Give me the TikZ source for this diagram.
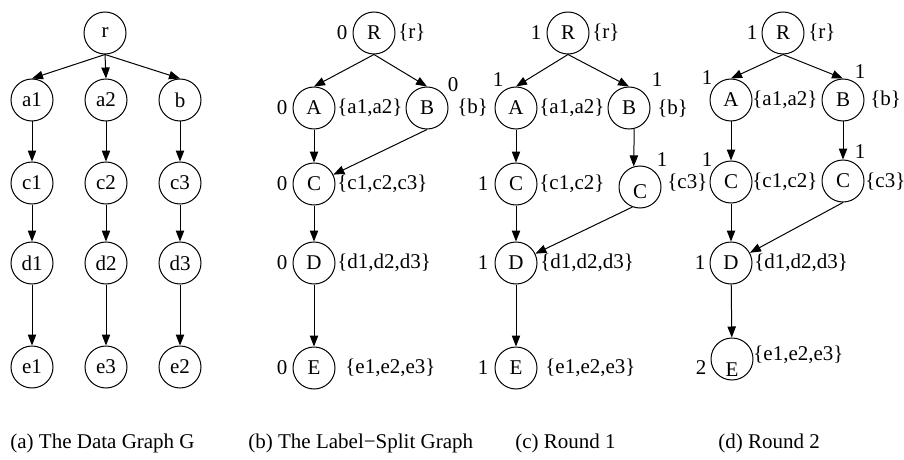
\documentclass[tikz,border=0pt]{standalone}
\usepackage{fontspec}
\setmainfont{Liberation Serif}
\usepackage{tikz}
\usetikzlibrary{arrows.meta}
\tikzset{every node/.style={font=\fontsize{10.5}{12}\selectfont},
 vtx/.style={draw,circle,line width=.5pt,minimum size=21pt,inner sep=0pt},
 link/.style={-{Triangle[length=5.5pt,width=4.2pt]},line width=.5pt},
 num/.style={inner sep=0pt},ext/.style={anchor=west,inner sep=0pt},
 caption/.style={anchor=west,inner sep=0pt}}

\begin{document}
\begin{tikzpicture}[x=5pt,y=-5pt]
\useasboundingbox (0,0) rectangle (90.4,46.0);
% (a) data graph
\node[vtx] (g-r) at (10.5,3.3) {r};
\node[vtx] (g-a1) at (3.2,10.0) {a1};
\node[vtx] (g-a2) at (10.6,10.0) {a2};
\node[vtx] (g-b) at (18.0,10.0) {b};
\node[vtx] (g-c1) at (3.2,18.3) {c1};
\node[vtx] (g-c2) at (10.6,18.3) {c2};
\node[vtx] (g-c3) at (18.0,18.3) {c3};
\node[vtx] (g-d1) at (3.2,26.3) {d1};
\node[vtx] (g-d2) at (10.6,26.3) {d2};
\node[vtx] (g-d3) at (18.0,26.3) {d3};
\node[vtx] (g-e1) at (3.2,36.7) {e1};
\node[vtx] (g-e3) at (10.6,36.7) {e3};
\node[vtx] (g-e2) at (18.0,36.7) {e2};
\draw[link] (g-r.south)--(g-a1.north);
\draw[link] (g-r.south)--(g-a2.north);
\draw[link] (g-r.south)--(g-b.north);
\draw[link] (g-a1)--(g-c1);
\draw[link] (g-a2)--(g-c2);
\draw[link] (g-b)--(g-c3);
\draw[link] (g-c1)--(g-d1);
\draw[link] (g-c2)--(g-d2);
\draw[link] (g-c3)--(g-d3);
\draw[link] (g-d1)--(g-e1);
\draw[link] (g-d2)--(g-e3);
\draw[link] (g-d3)--(g-e2);
\node[caption] (cap-a) at (1.0,44.3) {(a) The Data Graph G};
% (b) label-split graph
\node[vtx] (ls-R) at (37.4,3.3) {R};
\node[vtx] (ls-A) at (31.4,10.8) {A};
\node[vtx] (ls-B) at (42.7,10.8) {B};
\node[vtx] (ls-C) at (31.4,18.4) {C};
\node[vtx] (ls-D) at (31.4,26.3) {D};
\node[vtx] (ls-E) at (31.4,36.8) {E};
\node[num] (ls-R-n) at (34.2,3.3) {0};
\node[ext] (ls-R-s) at (39.8,3.3) {\{r\}};
\node[num] (ls-A-n) at (28.2,10.8) {0};
\node[ext] (ls-A-s) at (33.7,10.8) {\{a1,a2\}};
\node[num] (ls-B-n) at (45.3,8.5) {0};
\node[ext] (ls-B-s) at (45.7,10.8) {\{b\}};
\node[num] (ls-C-n) at (28.2,18.4) {0};
\node[ext] (ls-C-s) at (33.7,18.4) {\{c1,c2,c3\}};
\node[num] (ls-D-n) at (28.2,26.3) {0};
\node[ext] (ls-D-s) at (33.7,26.3) {\{d1,d2,d3\}};
\node[num] (ls-E-n) at (28.2,36.8) {0};
\node[ext] (ls-E-s) at (34.5,36.8) {\{e1,e2,e3\}};
\draw[link] (ls-R.south)--(ls-A.north);
\draw[link] (ls-R.south)--(ls-B.north);
\draw[link] (ls-A)--(ls-C);
\draw[link] (ls-B.south)--(ls-C);
\draw[link] (ls-C)--(ls-D);
\draw[link] (ls-D)--(ls-E);
\node[caption] (cap-b) at (24.8,44.3) {(b) The Label−Split Graph};
% (c) round 1
\node[vtx] (r1-R) at (56.8,3.3) {R};
\node[vtx] (r1-A) at (51.6,10.8) {A};
\node[vtx] (r1-B) at (62.9,10.8) {B};
\node[vtx] (r1-C1) at (51.6,18.4) {C};
\node[vtx] (r1-C2) at (64.0,18.7) {};
\node (r1-C2-t) at (64.0,19.2) {C};
\node[vtx] (r1-D) at (51.6,26.3) {D};
\node[vtx] (r1-E) at (51.6,36.8) {E};
\node[num] (r1-R-n) at (53.6,3.3) {1};
\node[ext] (r1-R-s) at (59.2,3.3) {\{r\}};
\node[num] (r1-A-n) at (49.8,8.0) {1};
\node[ext] (r1-A-s) at (53.9,10.8) {\{a1,a2\}};
\node[num] (r1-B-n) at (65.7,8.0) {1};
\node[ext] (r1-B-s) at (65.7,10.9) {\{b\}};
\node[num] (r1-C1-n) at (48.3,18.4) {1};
\node[ext] (r1-C1-s) at (53.9,18.4) {\{c1,c2\}};
\node[num] (r1-C2-n) at (66.2,16.0) {1};
\node[ext] (r1-C2-s) at (66.7,18.3) {\{c3\}};
\node[num] (r1-D-n) at (48.3,26.3) {1};
\node[ext] (r1-D-s) at (54.0,26.3) {\{d1,d2,d3\}};
\node[num] (r1-E-n) at (48.3,36.8) {1};
\node[ext] (r1-E-s) at (54.5,36.8) {\{e1,e2,e3\}};
\draw[link] (r1-R.south)--(r1-A.north);
\draw[link] (r1-R.south)--(r1-B.north);
\draw[link] (r1-A)--(r1-C1);
\draw[link] (r1-B.-76)--(r1-C2.107);
\draw[link] (r1-C1)--(r1-D);
\draw[link] (r1-C2.-111)--(r1-D);
\draw[link] (r1-D)--(r1-E);
\node[caption] (cap-c) at (51.5,44.3) {(c) Round 1};
% (d) round 2
\node[vtx] (r2-R) at (78.3,3.3) {R};
\node[vtx] (r2-A) at (73.1,10.0) {A};
\node[vtx] (r2-B) at (84.3,10.0) {B};
\node[vtx] (r2-C1) at (73.1,18.2) {C};
\node[vtx] (r2-C2) at (84.3,18.1) {C};
\node[vtx] (r2-D) at (73.1,26.3) {D};
\node[vtx] (r2-E) at (73.2,35.9) {};
\node (r2-E-t) at (73.2,37.0) {E};
\node[num] (r2-R-n) at (75.2,3.3) {1};
\node[ext] (r2-R-s) at (80.8,3.3) {\{r\}};
\node[num] (r2-A-n) at (70.7,7.8) {1};
\node[ext] (r2-A-s) at (75.2,10.0) {\{a1,a2\}};
\node[num] (r2-B-n) at (86.0,7.2) {1};
\node[ext] (r2-B-s) at (87.0,10.0) {\{b\}};
\node[num] (r2-C1-n) at (70.7,16.0) {1};
\node[ext] (r2-C1-s) at (75.2,18.2) {\{c1,c2\}};
\node[num] (r2-C2-n) at (86.0,15.2) {1};
\node[ext] (r2-C2-s) at (86.5,18.2) {\{c3\}};
\node[num] (r2-D-n) at (70.0,26.3) {1};
\node[ext] (r2-D-s) at (75.4,26.3) {\{d1,d2,d3\}};
\node[num] (r2-E-n) at (70.1,36.8) {2};
\node[ext] (r2-E-s) at (75.3,35.5) {\{e1,e2,e3\}};
\draw[link] (r2-R.south)--(r2-A.north);
\draw[link] (r2-R.south)--(r2-B.north);
\draw[link] (r2-A)--(r2-C1);
\draw[link] (r2-B)--(r2-C2);
\draw[link] (r2-C1)--(r2-D);
\draw[link] (r2-C2.south)--(r2-D);
\draw[link] (r2-D)--(r2-E);
\node[caption] (cap-d) at (71.8,44.3) {(d) Round 2};
\end{tikzpicture}
\end{document}
